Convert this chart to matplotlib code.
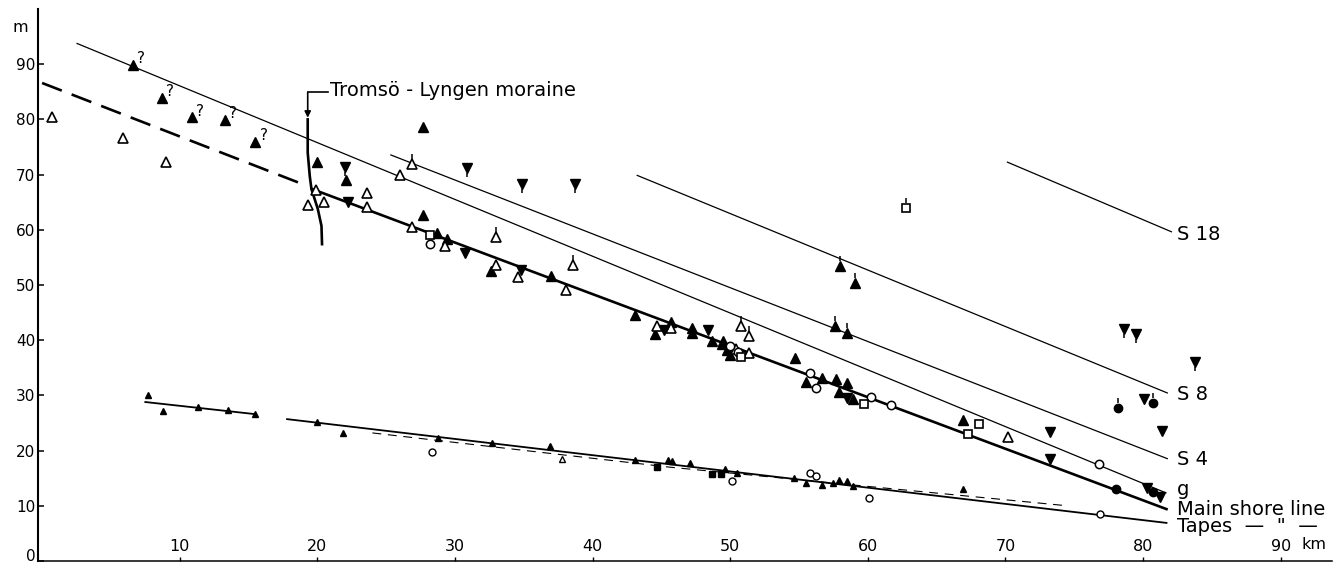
import matplotlib
matplotlib.use("Agg")
import matplotlib.pyplot as plt
from matplotlib.path import Path

# ---------------- data (km, m) ----------------
# shore lines
g_x, g_y = [2.5, 81.7], [93.8, 12.3]
s4_x, s4_y = [25.3, 81.8], [73.6, 18.5]
s8_x, s8_y = [43.2, 81.8], [69.9, 30.4]
s18_x, s18_y = [70.1, 82.1], [72.3, 59.6]
main_x, main_y = [19.6, 81.7], [67.4, 9.4]
main_dash_x, main_dash_y = [0.0, 18.9], [86.6, 68.3]
tapes1_x, tapes1_y = [7.5, 15.5], [28.8, 26.6]
tapes2_x, tapes2_y = [17.8, 81.7], [25.7, 6.9]
tapes_dash_x, tapes_dash_y = [24.0, 45.6, 74.5], [23.2, 17.0, 10.0]
moraine_x = [19.3, 19.3, 19.45, 19.57, 20.03, 20.3, 20.34]
moraine_y = [80.0, 74.0, 69.7, 67.4, 63.8, 60.7, 57.4]

# observations
uncertain_x = [6.6, 8.7, 10.9, 13.3, 15.5]
uncertain_y = [89.9, 83.9, 80.4, 79.9, 75.9]

filled_up_x = [20.0, 22.1, 27.7, 27.7, 28.7, 29.4, 32.6, 37.0, 43.1, 44.5, 45.7,
               47.2, 47.2, 48.7, 49.5, 49.4, 49.8, 50.0, 54.7, 58.0, 59.1, 57.6,
               58.5, 55.5, 56.7, 57.7, 58.5, 57.9, 58.9, 66.9]
filled_up_y = [72.3, 69.0, 78.6, 62.7, 59.4, 58.3, 52.5, 51.6, 44.6, 41.1, 43.3,
               42.2, 41.3, 39.9, 39.9, 39.3, 38.2, 37.3, 36.8, 53.4, 50.4, 42.6,
               41.3, 32.4, 33.1, 33.0, 32.2, 30.6, 29.3, 25.5]

open_up_x = [0.7, 5.9, 9.0, 19.9, 19.3, 20.5, 26.9, 26.0, 23.6, 23.6, 26.9, 29.3,
             33.0, 33.0, 34.6, 38.6, 38.1, 44.7, 45.7, 50.8, 51.4, 50.4, 51.4, 70.2]
open_up_y = [80.4, 76.6, 72.3, 67.2, 64.5, 65.0, 71.9, 69.9, 66.7, 64.1, 60.5, 57.1,
             58.7, 53.6, 51.4, 53.6, 49.1, 42.6, 42.2, 42.6, 40.8, 38.4, 37.7, 22.5]

filled_down_x = [22.0, 22.2, 30.9, 34.9, 38.7, 30.7, 34.8, 45.2, 48.4, 58.5, 78.6,
                 79.5, 83.8, 80.1, 81.4, 73.2, 73.2, 80.3, 81.2]
filled_down_y = [71.4, 65.0, 71.2, 68.3, 68.3, 55.8, 52.7, 41.8, 41.8, 29.5, 42.0,
                 41.1, 36.0, 29.3, 23.6, 23.4, 18.5, 13.2, 11.6]

open_circle_x = [28.2, 50.0, 50.6, 55.8, 56.2, 60.2, 61.7, 76.8]
open_circle_y = [57.4, 38.9, 37.9, 34.1, 31.3, 29.7, 28.3, 17.6]

filled_circle_x = [78.2, 80.7, 78.0, 80.7]
filled_circle_y = [27.7, 28.6, 13.0, 12.5]

open_square_x = [28.2, 50.8, 59.7, 68.1, 67.3, 62.8]
open_square_y = [59.1, 37.0, 28.4, 24.8, 23.0, 63.9]

# symbols carrying a small stem (above / below)
stem_up_x = [26.9, 33.0, 38.6, 50.8, 51.4, 58.0, 59.1, 57.6, 58.5, 62.8, 78.2, 80.7]
stem_up_y = [71.9, 58.7, 53.6, 42.6, 40.8, 53.4, 50.4, 42.6, 41.3, 63.9, 27.7, 28.6]
stem_down_x = [22.0, 30.9, 34.9, 38.7, 78.6, 79.5, 83.8]
stem_down_y = [71.4, 71.2, 68.3, 68.3, 42.0, 41.1, 36.0]

# Tapes observations (small symbols)
tapes_up_x = [7.7, 8.8, 11.3, 13.5, 15.5, 20.0, 21.9, 28.8, 32.7, 36.9, 43.1, 45.5,
              45.8, 47.1, 49.6, 50.5, 54.6, 55.5, 56.7, 57.5, 57.9, 58.5, 58.9, 66.9]
tapes_up_y = [30.1, 27.2, 27.9, 27.4, 26.6, 25.2, 23.2, 22.3, 21.4, 20.8, 18.3, 18.3,
              18.1, 17.8, 16.7, 16.0, 15.0, 14.2, 13.8, 14.2, 14.7, 14.5, 13.6, 13.0]
tapes_open_up_x, tapes_open_up_y = [37.8], [18.5]
tapes_square_x = [44.7, 48.7, 49.3]
tapes_square_y = [17.0, 15.8, 15.8]
tapes_circle_x = [28.3, 50.1, 55.8, 56.2, 60.1, 76.9]
tapes_circle_y = [19.7, 14.5, 15.9, 15.4, 11.4, 8.5]

y_ticks = [0, 10, 20, 30, 40, 50, 60, 70, 80, 90]
x_ticks = [10, 20, 30, 40, 50, 60, 70, 80, 90]
x_tick_labels = ["10", "20", "30", "40", "50", "60", "70", "80", "90"]

line_labels = ["S 18", "S 8", "S 4", "g", "Main shore line", 'Tapes  —  "  —']
line_label_y = [59.1, 30.1, 18.3, 13.0, 9.4, 6.2]

# ---------------- figure ----------------
plt.rcParams["font.family"] = ["DejaVu Sans"]
fig = plt.figure(figsize=(13.37, 5.67), dpi=100)
ax = fig.add_axes([0.0284, 0.0106, 0.9676, 0.9735])
ax.set_xlim(-0.3, 93.7)
ax.set_ylim(0, 100)

k = "black"
thin = dict(color=k, lw=0.9, solid_capstyle="butt")
ax.plot(g_x, g_y, **thin)
ax.plot(s4_x, s4_y, **thin)
ax.plot(s8_x, s8_y, **thin)
ax.plot(s18_x, s18_y, **thin)
ax.plot(main_x, main_y, color=k, lw=1.9)
ax.plot(main_dash_x, main_dash_y, color=k, lw=1.9, dashes=(8, 4))
ax.plot(tapes1_x, tapes1_y, color=k, lw=1.3)
ax.plot(tapes2_x, tapes2_y, color=k, lw=1.3)
ax.plot(tapes_dash_x, tapes_dash_y, color=k, lw=0.8, dashes=(8, 6))
ax.plot(moraine_x, moraine_y, color=k, lw=1.9)

# moraine label with arrow
ax.annotate("", xy=(19.3, 80.3), xytext=(19.3, 84.9),
            arrowprops=dict(arrowstyle="-|>", color=k, lw=1.2, mutation_scale=9,
                            shrinkA=0, shrinkB=0))
ax.plot([19.3, 20.8], [84.9, 84.9], color=k, lw=1.2)
ax.text(20.95, 85.3, "Tromsö - Lyngen moraine", fontsize=14, va="center", ha="left")

big = 7.3
stem_up = Path([(0, 1.0), (0, 2.0)], [Path.MOVETO, Path.LINETO])
stem_dn = Path([(0, -1.0), (0, -2.0)], [Path.MOVETO, Path.LINETO])
ax.plot(stem_up_x, stem_up_y, ls="none", marker=stem_up, ms=15, mec=k, mew=1.1, zorder=3)
ax.plot(stem_down_x, stem_down_y, ls="none", marker=stem_dn, ms=13, mec=k, mew=1.1, zorder=3)

ax.plot(uncertain_x, uncertain_y, ls="none", marker="^", ms=big, color=k, zorder=4)
for xx, yy in zip(uncertain_x, uncertain_y):
    ax.annotate("?", (xx, yy), xytext=(3, -1), textcoords="offset points",
                fontsize=11, va="bottom", ha="left")
ax.plot(filled_up_x, filled_up_y, ls="none", marker="^", ms=big, color=k, zorder=4)
ax.plot(open_up_x, open_up_y, ls="none", marker="^", ms=big + 0.5, mfc="white",
        mec=k, mew=1.2, zorder=4)
ax.plot(filled_down_x, filled_down_y, ls="none", marker="v", ms=big, color=k, zorder=4)
ax.plot(open_circle_x, open_circle_y, ls="none", marker="o", ms=6, mfc="white",
        mec=k, mew=1.1, zorder=4)
ax.plot(filled_circle_x, filled_circle_y, ls="none", marker="o", ms=6, color=k, zorder=4)
ax.plot(open_square_x, open_square_y, ls="none", marker="s", ms=5.8, mfc="white",
        mec=k, mew=1.2, zorder=4)

ax.plot(tapes_up_x, tapes_up_y, ls="none", marker="^", ms=4.6, color=k, zorder=4)
ax.plot(tapes_open_up_x, tapes_open_up_y, ls="none", marker="^", ms=4.8, mfc="white",
        mec=k, mew=1.0, zorder=4)
ax.plot(tapes_square_x, tapes_square_y, ls="none", marker="s", ms=4.3, color=k, zorder=4)
ax.plot(tapes_circle_x, tapes_circle_y, ls="none", marker="o", ms=5, mfc="white",
        mec=k, mew=1.0, zorder=4)

# right-hand line labels
for lab, yy in zip(line_labels, line_label_y):
    ax.text(82.45, yy, lab, fontsize=14, va="center", ha="left")

# axes styling
for s in ("top", "right"):
    ax.spines[s].set_visible(False)
ax.spines["left"].set_linewidth(1.5)
ax.spines["bottom"].set_linewidth(1.1)
ax.set_yticks(y_ticks)
ax.set_yticklabels([str(v) for v in y_ticks])
ax.set_xticks(x_ticks)
ax.set_xticklabels(x_tick_labels)
ax.tick_params(axis="y", direction="in", length=4.5, width=1.1, pad=2, labelsize=11)
ax.tick_params(axis="x", direction="in", length=3, width=1.0, pad=-16, labelsize=11.5)
ylabels = ax.get_yticklabels()
for lab in ylabels:
    lab.set_va("center_baseline")
ylabels[0].set_va("baseline")
ax.text(91.5, 2.9, "km", fontsize=11.5, va="center", ha="left")
ax.text(-1.6, 96.6, "m", fontsize=11.5, va="center", ha="center", clip_on=False)

fig.savefig("out.png", dpi=100)
